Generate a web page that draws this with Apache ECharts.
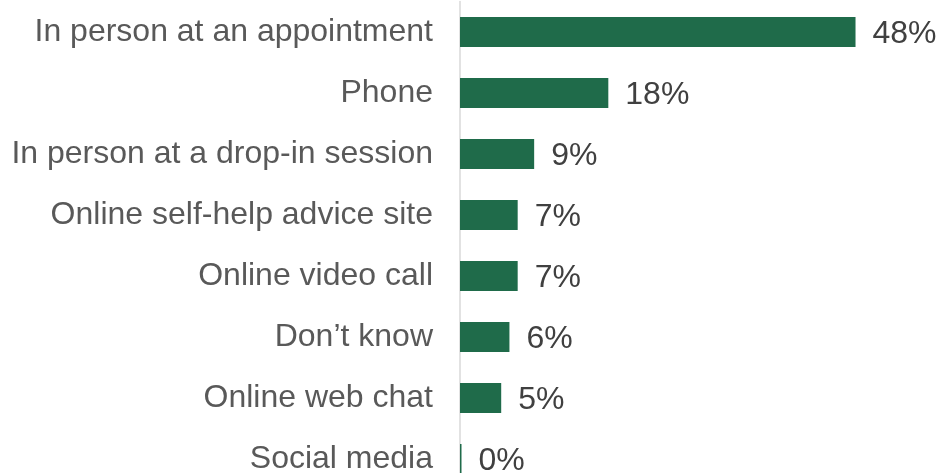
<!DOCTYPE html>
<html>
<head>
<meta charset="utf-8">
<script src="https://cdn.jsdelivr.net/npm/echarts@6/dist/echarts.min.js"></script>
<style>
  html, body { margin: 0; padding: 0; background: #ffffff; overflow: hidden; }
  #chart { width: 940px; height: 490px; }
</style>
</head>
<body>
<div id="chart"></div>
<script>
// Preferred ways of getting advice (share of respondents, %)
const categories = [
  'In person at an appointment',
  'Phone',
  'In person at a drop-in session',
  'Online self-help advice site',
  'Online video call',
  'Don\u2019t know',
  'Online web chat',
  'Social media'
];
const shares = [48, 18, 9, 7, 7, 6, 5, 0];

const chart = echarts.init(document.getElementById('chart'), null, { renderer: 'canvas' });

chart.setOption({
  animation: false,
  backgroundColor: '#ffffff',
  textStyle: { fontFamily: 'Liberation Sans, Arial, sans-serif' },
  grid: { left: 460, top: 1.5, bottom: 0.5, width: 412, containLabel: false },
  xAxis: {
    type: 'value',
    min: 0,
    max: 50,
    show: false
  },
  yAxis: {
    type: 'category',
    inverse: true,
    data: categories,
    axisLine: { show: true, lineStyle: { color: '#d9d9d9', width: 1.5 } },
    axisTick: { show: false },
    axisLabel: {
      margin: 27,
      color: '#595959',
      fontSize: 32,
      fontFamily: 'Liberation Sans, Arial, sans-serif'
    }
  },
  series: [{
    type: 'bar',
    data: shares,
    barWidth: 30,
    barMinHeight: 1.5,
    itemStyle: { color: '#1f6b4a' },
    label: {
      show: true,
      position: 'right',
      distance: 17,
      offset: [0, 2],
      formatter: p => p.value + '%',
      color: '#404040',
      fontSize: 32,
      fontFamily: 'Liberation Sans, Arial, sans-serif'
    }
  }]
});
</script>
</body>
</html>
